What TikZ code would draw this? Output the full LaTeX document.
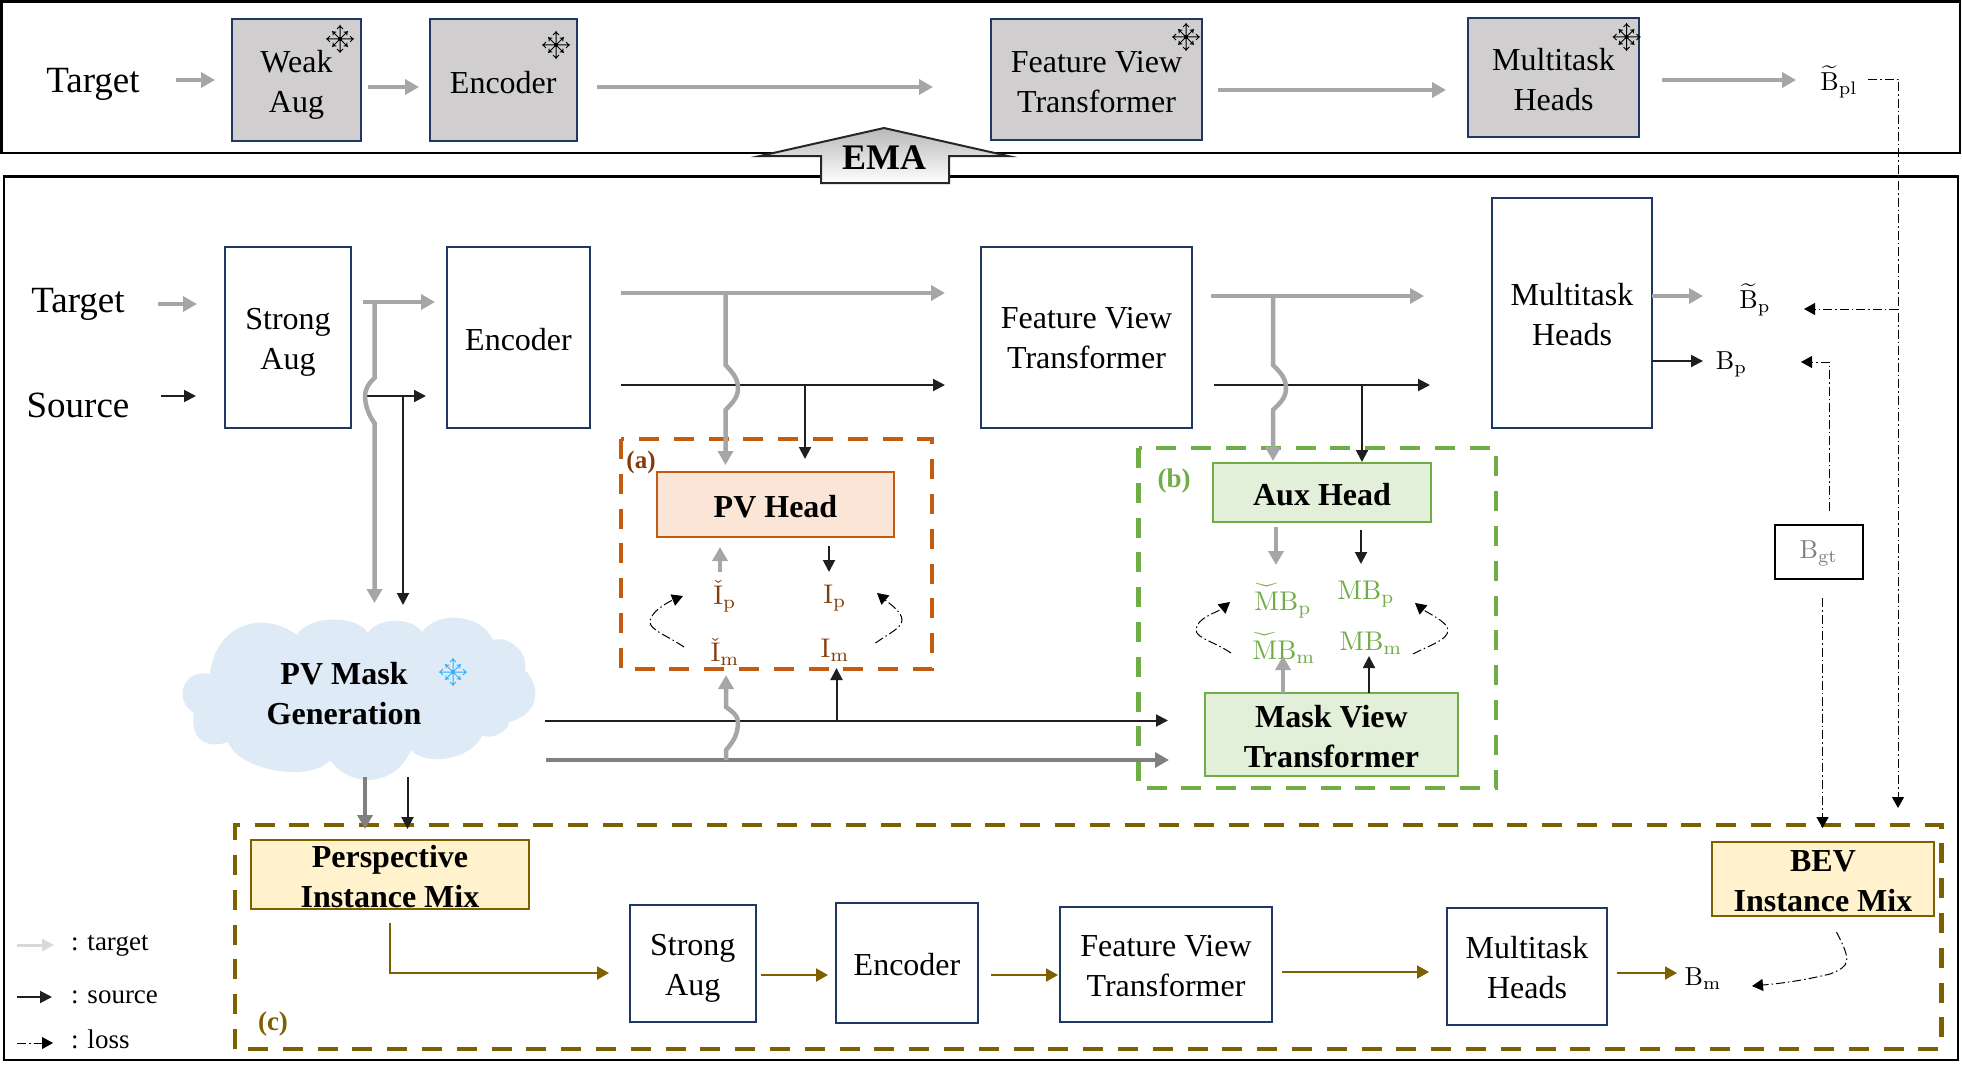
\documentclass[tikz,border=0pt]{standalone}
\usepackage{amsmath}
\usepackage[no-math]{fontspec}
\setmainfont{Liberation Serif}
\usetikzlibrary{arrows.meta,shadings}
\definecolor{navy}{HTML}{1F3864}
\definecolor{orng}{HTML}{C55A11}
\definecolor{orngfill}{HTML}{FBE5D6}
\definecolor{brn}{HTML}{843C0C}
\definecolor{grn}{HTML}{70AD47}
\definecolor{grnfill}{HTML}{E2F0D9}
\definecolor{gold}{HTML}{7F6000}
\definecolor{goldfill}{HTML}{FFF2CC}
\definecolor{tgray}{HTML}{A6A6A6}
\definecolor{mgray}{HTML}{808080}
\definecolor{boxgray}{HTML}{D0CECE}
\definecolor{cloudc}{HTML}{DEEAF6}
\definecolor{flakeb}{HTML}{2DB0FF}
\newcommand{\bx}[8][2]{\node[#7,minimum width={#5-#3},minimum height={#6-#4}] (#2) at ({(#3+#5)/2},{(#4+#6)/2}) {};
  \node[#7,draw=none,fill=none] (#2t) at ([yshift=-#1pt]#2.center) {#8};}
\newcommand{\wchk}[1]{\overset{\rotatebox[origin=c]{180}{$\scriptstyle\widehat{\hphantom{M}}$}}{\mathrm{#1}}\mathrm{B}}
\newcommand{\mlab}[1]{\scalebox{2.6}{\fontsize{10}{12}\selectfont$#1$}}
\newcommand{\mlabb}[1]{\scalebox{2.7}{\fontsize{10}{12}\selectfont$#1$}}
\tikzset{
  base/.style={inner sep=0pt,outer sep=0pt,align=center,font=\fontsize{32}{40}\selectfont},
  plain/.style={base,draw=navy,line width=2pt},
  teacher/.style={plain,fill=boxgray},
  pvbox/.style={base,draw=orng,fill=orngfill,line width=2pt,font=\fontsize{32}{40}\selectfont\bfseries},
  grbox/.style={base,draw=grn,fill=grnfill,line width=2pt,font=\fontsize{32}{40}\selectfont\bfseries},
  yebox/.style={base,draw=gold,fill=goldfill,line width=2pt,font=\fontsize{32}{40}\selectfont\bfseries},
  frame/.style={draw=black,line width=2.4pt},
  dbox/.style={line width=4.5pt,dash pattern=on 20pt off 14.8pt},
  garrow/.style={draw=tgray,line width=4.5pt,-{Triangle[length=14pt,width=15pt]}},
  marrow/.style={draw=mgray,line width=4.5pt,-{Triangle[length=14pt,width=15pt]}},
  karrow/.style={draw=black!88,line width=2pt,-{Triangle[length=12pt,width=12pt]}},
  yarrow/.style={draw=gold,line width=2pt,-{Triangle[length=12pt,width=13pt]}},
  larrow/.style={draw=black,line width=1pt,dash pattern=on 9pt off 3pt on 1.5pt off 3pt,-{Triangle[length=11pt,width=12pt]}},
  lab/.style={inner sep=0pt,outer sep=0pt,font=\fontsize{26}{30}\selectfont},
  name1/.style={inner sep=0pt,outer sep=0pt,font=\fontsize{37}{40}\selectfont},
  legt/.style={inner sep=0pt,outer sep=0pt,anchor=west,font=\fontsize{27}{30}\selectfont},
  flake/.pic={
    \foreach \a in {0,90,180,270}{
      \draw[line width=1pt,rotate=\a,pic actions] (0,0) -- (14,0) (13,0) -- (10,-3) (13,0) -- (10,3);
      \draw[line width=1pt,rotate=\a+45,pic actions] (0,0) -- (11,0) (10,0) -- (7.5,-2.2) (10,0) -- (7.5,2.2);
    }
    \fill[pic actions] (0,0) circle (2);
  },
}
\begin{document}
\begin{tikzpicture}[x=1pt,y=-1pt]
\useasboundingbox (0,0) rectangle (1962,1073);
\fill[white] (0,0) rectangle (1962,1073);

% frames
\draw[frame] (1.5,1.5) rectangle (1960,153);
\draw[frame] (4,176.5) rectangle (1958,1060);

% teacher branch
\node[name1] (tgtT) at (93,84) {Target};
\bx[5]{weak}{232}{19.5}{361}{141}{teacher}{Weak\\Aug}
\bx{encT}{429.5}{19.5}{577}{141}{teacher}{Encoder}
\bx[2]{fvtT}{991}{19.5}{1202}{140}{teacher}{Feature View\\Transformer}
\bx[2]{mhT}{1468}{18.5}{1639}{137}{teacher}{Multitask\\Heads}
\node[lab] (bpl) at (1839,82) {\mlab{\widetilde{\mathrm{B}}_{\mathrm{pl}}}};
\pic[black] at (340,39) {flake};
\pic[black] at (556,45) {flake};
\pic[black] at (1186,37) {flake};
\pic[black] at (1626.5,37) {flake};

% student boxes
\node[name1] (tgtS) at (78,304) {Target};
\node[name1] (srcS) at (78,405) {Source};
\bx[5]{strong}{225}{247}{351}{428}{plain}{Strong\\Aug}
\bx{encS}{447}{247}{590}{428}{plain}{Encoder}
\bx[1]{fvtS}{981}{247}{1192}{428}{plain}{Feature View\\Transformer}
\bx[2]{mhS}{1492}{198}{1652}{428}{plain}{Multitask\\Heads}
\node[lab] (bpt) at (1755,300) {\mlab{\widetilde{\mathrm{B}}_{\mathrm{p}}}};
\node[lab] (bp) at (1731.5,364) {\mlab{\mathrm{B}_{\mathrm{p}}}};
\bx[1]{bgt}{1774.5}{525}{1863}{579}{base,draw=black,line width=2pt,text=mgray}{\mlab{\mathrm{B}_{\mathrm{gt}}}}

% cloud
\path[fill=cloudc]
  (210,674) to[bend left=60,looseness=1.25] (297,635)
  to[bend left=60,looseness=.8] (368,633)
  to[bend left=60,looseness=.85] (422,632)
  to[bend left=60,looseness=1] (493,640)
  to[bend left=60,looseness=1] (525,670)
  to[bend left=60,looseness=1.3] (509,722)
  to[bend left=60,looseness=.85] (482,735)
  to[bend left=60,looseness=.85] (411,750)
  to[bend left=60,looseness=1.2] (330,760)
  to[bend left=60,looseness=.75] (228,742)
  to[bend left=60,looseness=1.4] (194,713)
  to[bend left=80,looseness=1.6] (210,674) -- cycle;
\node[base,font=\fontsize{32}{40}\selectfont\bfseries] (pvmask) at (344,694) {PV Mask\\Generation};
\pic[flakeb] at (453,672) {flake};

% dashed group (a)
\draw[dbox,draw=orng] (621,439) rectangle (932,669);
\bx{pvh}{657}{472}{894}{537}{pvbox}{PV Head}
\node[lab,text=brn,font=\fontsize{25}{30}\selectfont\bfseries] (la) at (641,462) {(a)};
\node[lab,text=brn] (ip0) at (725,596) {\mlabb{\check{\mathrm{I}}_{\mathrm{p}}}};
\node[lab,text=brn] (ip) at (835,598) {\mlabb{\mathrm{I}_{\mathrm{p}}}};
\node[lab,text=brn] (im0) at (725,652) {\mlabb{\check{\mathrm{I}}_{\mathrm{m}}}};
\node[lab,text=brn] (im) at (835,650) {\mlabb{\mathrm{I}_{\mathrm{m}}}};

% dashed group (b)
\draw[dbox,draw=grn] (1138.5,448) rectangle (1496,788);
\bx{aux}{1213}{463}{1431}{522}{grbox}{Aux Head}
\bx{mvt}{1205}{693}{1458}{776}{grbox}{Mask View\\Transformer}
\node[lab,text=grn,font=\fontsize{27}{30}\selectfont\bfseries] (lb) at (1174,481) {(b)};
\node[lab,text=grn] (mb0) at (1283,594) {\mlabb{\wchk{M}_{\mathrm{p}}}};
\node[lab,text=grn] (mb) at (1366,594) {\mlabb{\mathrm{MB}_{\mathrm{p}}}};
\node[lab,text=grn] (mbm0) at (1284,641) {\mlabb{\wchk{M}_{\mathrm{m}}}};
\node[lab,text=grn] (mbm) at (1371,643) {\mlabb{\mathrm{MB}_{\mathrm{m}}}};

% dashed group (c)
\draw[dbox,draw=gold] (235,1049) -- (235,825) -- (1941.5,825) -- (1941.5,1049) -- cycle;
\bx{pim}{251}{840}{529}{909}{yebox}{Perspective\\Instance Mix}
\bx[2]{bim}{1712}{842}{1934}{916}{yebox}{BEV\\Instance Mix}
\bx[5]{strC}{629.5}{905}{756}{1022}{plain}{Strong\\Aug}
\bx{encC}{836}{903}{978}{1023}{plain}{Encoder}
\bx[2]{fvtC}{1060}{907}{1272}{1022}{plain}{Feature View\\Transformer}
\bx[1]{mhC}{1447}{908}{1607}{1025}{plain}{Multitask\\Heads}
\node[lab] (bm) at (1703,979) {\mlab{\mathrm{B}_{\mathrm{m}}}};
\node[lab,text=gold,font=\fontsize{27}{30}\selectfont\bfseries] (lc) at (273,1024) {(c)};

% connector ends
\coordinate (t1a) at (176,80); \coordinate (t1b) at (215,80);
\coordinate (t2a) at (368,87); \coordinate (t2b) at (419,87);
\coordinate (t3a) at (597,87); \coordinate (t3b) at (933,87);
\coordinate (t4a) at (1218,90); \coordinate (t4b) at (1446,90);
\coordinate (t5a) at (1662,80); \coordinate (t5b) at (1796,80);
\coordinate (s1a) at (158,304); \coordinate (s1b) at (197,304);
\coordinate (s2a) at (161,396); \coordinate (s2b) at (196,396);
\coordinate (s3a) at (362.5,302); \coordinate (s3b) at (435,302);
\coordinate (s3c) at (374.5,302); \coordinate (s3d) at (374.5,603);
\coordinate (s4a) at (366,396); \coordinate (s4b) at (426,396);
\coordinate (s4c) at (403,396); \coordinate (s4d) at (403,605);
\coordinate (e1a) at (621,293); \coordinate (e1b) at (945,293);
\coordinate (e2a) at (621,385); \coordinate (e2b) at (945,385);
\coordinate (e1c) at (725.5,293); \coordinate (e1d) at (725.5,465);
\coordinate (e2c) at (805,385); \coordinate (e2d) at (805,459);
\coordinate (f1a) at (1211,296); \coordinate (f1b) at (1424,296);
\coordinate (f2a) at (1214,385); \coordinate (f2b) at (1430,385);
\coordinate (f1c) at (1273,296); \coordinate (f1d) at (1273,461);
\coordinate (f2c) at (1362,385); \coordinate (f2d) at (1362,462);
\coordinate (pa1) at (720,572); \coordinate (pa2) at (720,547);
\coordinate (pb1) at (829,546); \coordinate (pb2) at (829,572);
\coordinate (xa1) at (1276,527); \coordinate (xa2) at (1276,565);
\coordinate (xb1) at (1361,530); \coordinate (xb2) at (1361,564);
\coordinate (xc2) at (1283,656); \coordinate (xd1) at (1369,693); \coordinate (xd2) at (1369,656);
\coordinate (m1a) at (545,720.5); \coordinate (m1b) at (1168,720.5);
\coordinate (m2a) at (546,760); \coordinate (m2b) at (1169,760);
\coordinate (m1c) at (836.5,720.5); \coordinate (m1d) at (836.5,668);
\coordinate (m2c) at (726,760); \coordinate (m2d) at (726,675);
\coordinate (c1a) at (365,777); \coordinate (c1b) at (365,829);
\coordinate (c2a) at (407.5,777); \coordinate (c2b) at (407.5,829);
\coordinate (y1a) at (390,923); \coordinate (y1c) at (390,973); \coordinate (y1b) at (609,973);
\coordinate (y2a) at (761,975); \coordinate (y2b) at (828,975);
\coordinate (y3a) at (991,975); \coordinate (y3b) at (1058,975);
\coordinate (y4a) at (1282,972); \coordinate (y4b) at (1429,972);
\coordinate (y5a) at (1617,973); \coordinate (y5b) at (1677,973);
\coordinate (l1a) at (1868,79); \coordinate (l1c) at (1898,79); \coordinate (l1b) at (1898,808);
\coordinate (l2a) at (1898,309); \coordinate (l2b) at (1804,309);
\coordinate (l3a) at (1829,511); \coordinate (l3c) at (1829,362); \coordinate (l3b) at (1801,362);
\coordinate (l4a) at (1822.5,598); \coordinate (l4b) at (1822.5,828);
\coordinate (l5a) at (1836.5,932); \coordinate (l5b) at (1752,986);
\coordinate (cu1a) at (684,647); \coordinate (cu1b) at (683,596);
\coordinate (cu2a) at (875.5,643); \coordinate (cu2b) at (877,593);
\coordinate (cu3a) at (1231,653); \coordinate (cu3b) at (1230,602);
\coordinate (cu4a) at (1413,654); \coordinate (cu4b) at (1415,603);
\coordinate (mo1b) at (1703,296); \coordinate (mo2b) at (1703,361);

% teacher arrows
\foreach \a/\b in {t1a/t1b,t2a/t2b,t3a/t3b,t4a/t4b,t5a/t5b}{\draw[garrow] (\a) -- (\b);}

% student input arrows
\draw[garrow] (s1a) -- (s1b);
\draw[karrow] (s2a) -- (s2b);
\draw[garrow] (s3a) -- (s3b);
\draw[karrow] (s4a) -- (s4b);
\draw[karrow] (s4c) -- (s4d);
\draw[garrow] (s3c) -- (374.5,378) .. controls (368,384) and (365,390) .. (365,396) .. controls (365,405) and (369,416) .. (374.5,423) -- (s3d);

% encoder outputs
\draw[garrow] (e1a) -- (e1b);
\draw[karrow] (e2a) -- (e2b);
\draw[garrow] (e1c) -- (725.5,365) .. controls (732,372) and (738,378) .. (738,388) .. controls (738,398) and (732,403) .. (725.5,410) -- (e1d);
\draw[karrow] (e2c) -- (e2d);

% fvt outputs
\draw[garrow] (f1a) -- (f1b);
\draw[karrow] (f2a) -- (f2b);
\draw[garrow] (f1c) -- (1273,365) .. controls (1280,372) and (1286,378) .. (1286,388) .. controls (1286,398) and (1280,403) .. (1273,410) -- (f1d);
\draw[karrow] (f2c) -- (f2d);

% multitask outputs
\draw[garrow] (mhS.east|-mo1b) -- (mo1b);
\draw[karrow] (mhS.east|-mo2b) -- (mo2b);

% group a arrows
\draw[garrow,line width=4pt] (pa1) -- (pa2);
\draw[karrow] (pb1) -- (pb2);
% group b arrows
\draw[garrow] (xa1) -- (xa2);
\draw[karrow] (xb1) -- (xb2);
\draw[garrow] (mvt.north-|xc2) -- (xc2);
\draw[karrow] (xd1) -- (xd2);

% mask lines
\draw[karrow] (m1a) -- (m1b);
\draw[karrow] (m1c) -- (m1d);
\draw[marrow] (m2a) -- (m2b);
\draw[garrow] (m2c) -- (726,750) .. controls (733,742) and (738,735) .. (738,722) .. controls (738,716) and (733,712) .. (726,707) -- (m2d);

% cloud outputs
\draw[marrow] (c1a) -- (c1b);
\draw[karrow] (c2a) -- (c2b);

% group c arrows
\draw[yarrow] (y1a) -- (y1c) -- (y1b);
\draw[yarrow] (y2a) -- (y2b);
\draw[yarrow] (y3a) -- (y3b);
\draw[yarrow] (y4a) -- (y4b);
\draw[yarrow] (y5a) -- (y5b);

% losses
\draw[larrow] (l1a) -- (l1c) -- (l1b);
\draw[larrow] (l2a) -- (l2b);
\draw[larrow] (l3a) -- (l3c) -- (l3b);
\draw[larrow] (l4a) -- (l4b);
\draw[larrow] (l5a) .. controls (1852,962) and (1850,966) .. (1830,974) .. controls (1805,980) and (1785,983) .. (l5b);
\draw[larrow] (cu1a) .. controls (668,636) and (650,630) .. (650,622) .. controls (650,612) and (668,602) .. (cu1b);
\draw[larrow] (cu2a) .. controls (888,634) and (902,628) .. (902,620) .. controls (902,612) and (890,604) .. (cu2b);
\draw[larrow] (cu3a) .. controls (1215,642) and (1196,638) .. (1196,630) .. controls (1196,618) and (1218,612) .. (cu3b);
\draw[larrow] (cu4a) .. controls (1430,645) and (1448,640) .. (1448,630) .. controls (1448,622) and (1426,612) .. (cu4b);

% legend
\coordinate (g1a) at (17,945); \coordinate (g1b) at (54,945);
\coordinate (g2a) at (17,997); \coordinate (g2b) at (52,997);
\coordinate (g3a) at (17,1043); \coordinate (g3b) at (53,1043);
\draw[draw=black!15,line width=3pt,-{Triangle[length=12pt,width=12pt]}] (g1a) -- (g1b);
\draw[karrow] (g2a) -- (g2b);
\draw[larrow] (g3a) -- (g3b);
\node[legt] (g1) at (71,946) {: target};
\node[legt] (g2) at (71,997) {: source};
\node[legt] (g3) at (71,1039) {: loss};

% EMA arrow
\draw[line width=2pt,draw=black!85,top color=black!28,bottom color=white]
  (884,128) -- (1008,156) -- (949,156) -- (949,183) -- (821,183) -- (821,156) -- (760,156) -- cycle;
\node[inner sep=0pt,font=\fontsize{36}{40}\selectfont\bfseries] (ema) at (884,158) {EMA};
\end{tikzpicture}
\end{document}
